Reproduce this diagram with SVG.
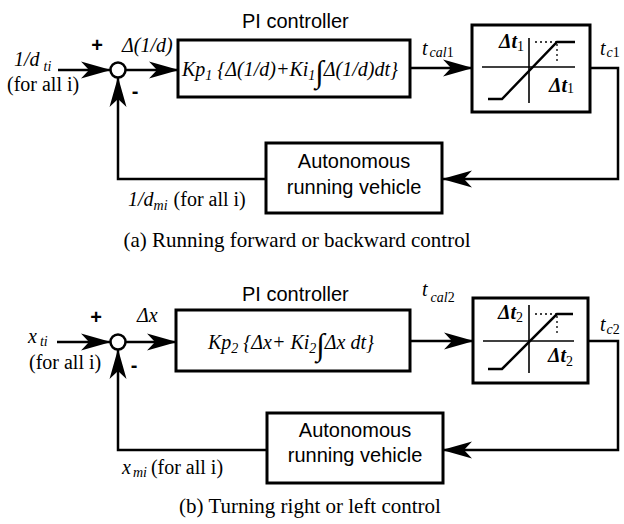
<svg xmlns="http://www.w3.org/2000/svg" width="624" height="524" viewBox="0 0 624 524">
<style>
.box{fill:#fff;stroke:#000;stroke-width:3}
.ln{fill:none;stroke:#000;stroke-width:2.5}
.thin{fill:none;stroke:#000;stroke-width:1.6}
.dot{fill:none;stroke:#000;stroke-width:1.3;stroke-dasharray:2 3}
.sans{font-family:"Liberation Sans",Arial,sans-serif;font-size:20px;fill:#000}
.ser{font-family:"Liberation Serif","Times New Roman",serif;font-size:20px;fill:#000}
.it{font-style:italic}
.sub{font-size:14px}
.cap{font-family:"Liberation Serif","Times New Roman",serif;font-size:21px;fill:#000}
.sym{font-family:"Liberation Sans",Arial,sans-serif;font-size:20px;font-weight:bold;fill:#000}
</style>
<defs>
<marker id="ah" markerUnits="userSpaceOnUse" viewBox="0 -9 30 18" markerWidth="30" markerHeight="18" refX="29" refY="0" orient="auto">
<path d="M0,-8.5 L30,0 L0,8.5 L8,0 Z" fill="#000"/>
</marker>
</defs>
<rect width="624" height="524" fill="#fff"/>

<!-- ===== (a) ===== -->
<g id="connectors-a">
<line class="ln" x1="58" y1="70" x2="110" y2="70" marker-end="url(#ah)"/>
<line class="ln" x1="126" y1="70" x2="178" y2="70" marker-end="url(#ah)"/>
<line class="ln" x1="410" y1="68" x2="472" y2="68" marker-end="url(#ah)"/>
<path class="ln" d="M590,68 H618 V179 H443" marker-end="url(#ah)"/>
<path class="ln" d="M266,179 H118 V78" marker-end="url(#ah)"/>
</g>

<g id="sum-a">
<circle cx="118" cy="70" r="7.5" fill="#fff" stroke="#000" stroke-width="2.5"/>
</g>

<g id="pi-a">
<text class="sans" x="242" y="28">PI controller</text>
<rect class="box" x="178" y="40" width="232" height="57"/>
<text class="ser it" x="182" y="76" font-size="20.5">Kp<tspan class="sub" dy="4">1</tspan><tspan dy="-4"> {Δ(1/d)+Ki</tspan><tspan class="sub" dy="4">1</tspan><tspan dy="2" font-size="31">∫</tspan><tspan dy="-6">Δ(1/d)dt}</tspan></text>
</g>

<g id="sat-a">
<rect class="box" x="472" y="25" width="118" height="87" stroke-width="3.5"/>
<line class="thin" x1="482" y1="67" x2="575" y2="67"/>
<line class="thin" x1="529" y1="38" x2="529" y2="103"/>
<polyline class="ln" points="488,99 502,99 557,42 575,42"/>
<line class="dot" x1="535" y1="42" x2="557" y2="42"/>
<line class="dot" x1="557" y1="44" x2="557" y2="62"/>
<text class="ser it" x="499" y="48" font-weight="bold">Δt<tspan class="sub" font-style="normal" font-weight="normal" dy="3">1</tspan></text>
<text class="ser it" x="549" y="92" font-weight="bold">Δt<tspan class="sub" font-style="normal" font-weight="normal" dy="1">1</tspan></text>
</g>

<g id="plant-a">
<rect class="box" x="266" y="143" width="176" height="70"/>
<text class="sans" x="354" y="168" text-anchor="middle">Autonomous</text>
<text class="sans" x="354" y="194" text-anchor="middle">running vehicle</text>
</g>

<g id="labels-a">
<text class="ser it" x="14" y="66">1/d<tspan class="sub" dx="4" dy="5" font-size="12">ti</tspan></text>
<text class="ser" x="7" y="91">(for all i)</text>
<text class="sym" x="97" y="52" text-anchor="middle">+</text>
<text class="ser it" x="122" y="52">Δ(1/d)</text>
<text class="sym" x="135" y="98" text-anchor="middle">-</text>
<text class="ser it" x="422" y="55">t<tspan class="sub" dx="2" dy="2">cal</tspan><tspan class="sub" font-style="normal">1</tspan></text>
<text class="ser it" x="600" y="55">t<tspan class="sub" dx="1" dy="2">c</tspan><tspan class="sub" font-style="normal">1</tspan></text>
<text class="ser it" x="128" y="206">1/d<tspan class="sub" dy="4">mi</tspan><tspan font-style="normal" dx="6" dy="-4">(for all i)</tspan></text>
<text class="cap" x="297" y="247" text-anchor="middle">(a) Running forward or backward control</text>
</g>

<!-- ===== (b) ===== -->
<g id="connectors-b">
<line class="ln" x1="57" y1="342" x2="110" y2="342" marker-end="url(#ah)"/>
<line class="ln" x1="126" y1="342" x2="176" y2="342" marker-end="url(#ah)"/>
<line class="ln" x1="410" y1="341" x2="473" y2="341" marker-end="url(#ah)"/>
<path class="ln" d="M588,341 H618 V450 H443" marker-end="url(#ah)"/>
<path class="ln" d="M267,450 H118 V350" marker-end="url(#ah)"/>
</g>

<g id="sum-b">
<circle cx="118" cy="342" r="7.5" fill="#fff" stroke="#000" stroke-width="2.5"/>
</g>

<g id="pi-b">
<text class="sans" x="242" y="301">PI controller</text>
<rect class="box" x="176" y="310" width="234" height="61"/>
<text class="ser it" x="208" y="349" font-size="21">Kp<tspan class="sub" dy="4">2</tspan><tspan dy="-4"> {Δx+ Ki</tspan><tspan class="sub" dy="4">2</tspan><tspan dy="2" font-size="31">∫</tspan><tspan dy="-6">Δx dt}</tspan></text>
</g>

<g id="sat-b">
<rect class="box" x="473" y="298" width="115" height="85" stroke-width="3.5"/>
<line class="thin" x1="483" y1="341" x2="574" y2="341"/>
<line class="thin" x1="529" y1="305" x2="529" y2="373"/>
<polyline class="ln" points="488,369 502,369 557,314 573,314"/>
<line class="dot" x1="535" y1="314" x2="557" y2="314"/>
<line class="dot" x1="557" y1="316" x2="557" y2="334"/>
<text class="ser it" x="498" y="319" font-weight="bold">Δt<tspan class="sub" font-style="normal" font-weight="normal" dy="3">2</tspan></text>
<text class="ser it" x="548" y="362" font-weight="bold">Δt<tspan class="sub" font-style="normal" font-weight="normal" dy="4">2</tspan></text>
</g>

<g id="plant-b">
<rect class="box" x="267" y="413" width="176" height="70"/>
<text class="sans" x="355" y="437" text-anchor="middle">Autonomous</text>
<text class="sans" x="355" y="462" text-anchor="middle">running vehicle</text>
</g>

<g id="labels-b">
<text class="ser it" x="28" y="343">x<tspan class="sub" dx="3" dy="3">ti</tspan></text>
<text class="ser" x="29" y="369">(for all i)</text>
<text class="sym" x="96" y="324" text-anchor="middle">+</text>
<text class="ser it" x="137" y="322">Δx</text>
<text class="sym" x="134" y="372" text-anchor="middle">-</text>
<text class="ser it" x="422" y="296">t<tspan class="sub" dx="3" dy="6">cal</tspan><tspan class="sub" font-style="normal">2</tspan></text>
<text class="ser it" x="600" y="331">t<tspan class="sub" dx="1" dy="3">c</tspan><tspan class="sub" font-style="normal">2</tspan></text>
<text class="ser it" x="122" y="474">x<tspan class="sub" dx="2" dy="3">mi</tspan><tspan font-style="normal" dx="4" dy="-3">(for all i)</tspan></text>
<text class="cap" x="310" y="513" text-anchor="middle" font-size="23">(b) Turning right or left control</text>
</g>
</svg>
